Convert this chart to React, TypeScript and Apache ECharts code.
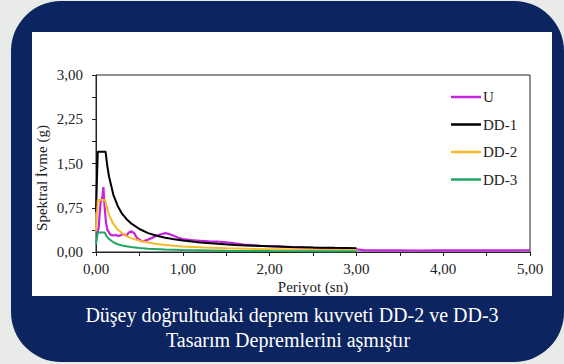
import React, { useEffect, useRef } from "react";
import * as echarts from "echarts";

const seriesNames = ["U", "DD-1", "DD-2", "DD-3"];
const seriesColors = ["#c623df", "#000000", "#f7b927", "#1fa862"];

const uData: [number, number][] = [
  [0.01, 0.3], [0.03, 0.4], [0.045, 0.7], [0.055, 0.86], [0.065, 0.88], [0.075, 0.95], [0.085, 1.1],
  [0.09, 0.98], [0.1, 0.75], [0.115, 0.5], [0.13, 0.38], [0.15, 0.33], [0.17, 0.29], [0.2, 0.28],
  [0.23, 0.29], [0.26, 0.27], [0.29, 0.29], [0.32, 0.3], [0.35, 0.28], [0.38, 0.33], [0.41, 0.35],
  [0.44, 0.32], [0.47, 0.24], [0.5, 0.21], [0.53, 0.18], [0.56, 0.19], [0.6, 0.21], [0.65, 0.24],
  [0.7, 0.28], [0.75, 0.3], [0.8, 0.32], [0.85, 0.3], [0.9, 0.27], [0.95, 0.24], [1.0, 0.22],
  [1.05, 0.21], [1.1, 0.2], [1.2, 0.19], [1.3, 0.18], [1.4, 0.175], [1.5, 0.165], [1.6, 0.145],
  [1.7, 0.125], [1.8, 0.115], [1.9, 0.105], [2.0, 0.1], [2.1, 0.095], [2.2, 0.085], [2.3, 0.08],
  [2.4, 0.075], [2.5, 0.072], [2.6, 0.068], [2.7, 0.064], [2.8, 0.06], [2.9, 0.056], [3.0, 0.045],
  [3.1, 0.03], [3.3, 0.028], [3.5, 0.03], [3.7, 0.025], [3.9, 0.03], [4.1, 0.028], [4.3, 0.026],
  [4.5, 0.03], [4.7, 0.028], [4.9, 0.03], [5.0, 0.03],
];

const dd1Data: [number, number][] = [
  [0, 0.68], [0.02, 1.7], [0.11, 1.7], [0.13, 1.46], [0.15, 1.28], [0.2, 0.97], [0.25, 0.78],
  [0.3, 0.65], [0.35, 0.56], [0.4, 0.49], [0.5, 0.39], [0.6, 0.32], [0.7, 0.275], [0.8, 0.24],
  [0.9, 0.215], [1.0, 0.195], [1.2, 0.16], [1.4, 0.138], [1.6, 0.12], [1.8, 0.107], [2.0, 0.096],
  [2.25, 0.085], [2.5, 0.077], [2.75, 0.07], [3.0, 0.064],
];

const dd2Data: [number, number][] = [
  [0, 0.35], [0.02, 0.88], [0.105, 0.88], [0.12, 0.79], [0.15, 0.63], [0.2, 0.475], [0.25, 0.38],
  [0.3, 0.32], [0.35, 0.27], [0.4, 0.24], [0.5, 0.19], [0.6, 0.16], [0.7, 0.135], [0.8, 0.12],
  [0.9, 0.105], [1.0, 0.095], [1.25, 0.076], [1.5, 0.063], [1.75, 0.054], [2.0, 0.048],
  [2.5, 0.038], [3.0, 0.032],
];

const dd3Data: [number, number][] = [
  [0, 0.13], [0.02, 0.33], [0.1, 0.33], [0.12, 0.275], [0.15, 0.22], [0.2, 0.165], [0.25, 0.13],
  [0.3, 0.11], [0.4, 0.083], [0.5, 0.066], [0.6, 0.055], [0.8, 0.041], [1.0, 0.033], [1.5, 0.022],
  [2.0, 0.017], [2.5, 0.013], [3.0, 0.011],
];

const allData = [uData, dd1Data, dd2Data, dd3Data];

const xTitle = "Periyot (sn)";
const yTitle = "Spektral İvme (g)";
const captionLines = ["Düşey doğrultudaki deprem kuvveti DD-2 ve DD-3", "Tasarım Depremlerini aşmıştır"];

const FONT = "Times New Roman, Liberation Serif, DejaVu Serif, serif";
const fmt = (v: number) => v.toFixed(2).replace(".", ",");

export default function App() {
  const ref = useRef<HTMLDivElement>(null);
  useEffect(() => {
    if (!ref.current) return;
    const chart = echarts.init(ref.current, undefined, { renderer: "svg" });
    chart.setOption({
      animation: false,
      backgroundColor: "#e9ebe9",
      textStyle: { fontFamily: FONT },
      graphic: [
        {
          type: "rect",
          z: -10,
          shape: { x: 11, y: 1, width: 553, height: 361, r: 50 },
          style: { fill: "#0c2460" },
        },
        {
          type: "rect",
          z: -9,
          shape: { x: 32, y: 32, width: 520, height: 264 },
          style: { fill: "#ffffff" },
        },
        {
          type: "text",
          x: 42,
          y: 178,
          rotation: Math.PI / 2,
          style: {
            text: yTitle,
            fill: "#222",
            font: `15px ${FONT}`,
            align: "center",
            verticalAlign: "middle",
          },
        },
        {
          type: "text",
          x: 292,
          y: 315,
          style: {
            text: captionLines[0],
            fill: "#ffffff",
            font: `20px ${FONT}`,
            align: "center",
            verticalAlign: "middle",
          },
        },
        {
          type: "text",
          x: 288,
          y: 340,
          style: {
            text: captionLines[1],
            fill: "#ffffff",
            font: `20px ${FONT}`,
            align: "center",
            verticalAlign: "middle",
          },
        },
      ],
      grid: {
        left: 96,
        right: 34,
        top: 75,
        bottom: 112,
        show: true,
        borderColor: "#222",
        borderWidth: 1,
        backgroundColor: "transparent",
      },
      legend: {
        orient: "vertical",
        left: 446,
        top: 84,
        icon: "rect",
        itemWidth: 30,
        itemHeight: 2.5,
        itemGap: 11.5,
        data: seriesNames,
        textStyle: { fontFamily: FONT, fontSize: 15, color: "#222", lineHeight: 16, padding: [0, 0, 0, -3] },
      },
      xAxis: {
        type: "value",
        min: 0,
        max: 5,
        interval: 1,
        name: xTitle,
        nameLocation: "middle",
        nameGap: 27,
        nameTextStyle: { fontFamily: FONT, fontSize: 15, color: "#222" },
        axisLine: { show: true, lineStyle: { color: "#222", width: 1 } },
        axisTick: { show: true, inside: false, length: 4, lineStyle: { color: "#222" } },
        minorTick: { show: true, splitNumber: 2, length: 4, lineStyle: { color: "#222" } },
        splitLine: { show: false },
        axisLabel: { formatter: fmt, fontFamily: FONT, fontSize: 15, color: "#222", margin: 9 },
      },
      yAxis: {
        type: "value",
        min: 0,
        max: 3,
        interval: 0.75,
        axisLine: { show: true, lineStyle: { color: "#222", width: 1 } },
        axisTick: { show: true, inside: false, length: 4, lineStyle: { color: "#222" } },
        minorTick: { show: true, splitNumber: 2, length: 4, lineStyle: { color: "#222" } },
        splitLine: { show: false },
        axisLabel: { formatter: fmt, fontFamily: FONT, fontSize: 15, color: "#222", margin: 13 },
      },
      series: seriesNames.map((name, i) => ({
        name,
        type: "line",
        data: allData[i],
        showSymbol: false,
        symbol: "none",
        color: seriesColors[i],
        itemStyle: { color: seriesColors[i] },
        lineStyle: { color: seriesColors[i], width: i === 0 ? 2.2 : 2 },
        z: 2 + i,
      })),
    });
    return () => chart.dispose();
  }, []);
  return (
    <div
      ref={ref}
      style={{ position: "fixed", left: 0, top: 0, width: 564, height: 364 }}
    />
  );
}
